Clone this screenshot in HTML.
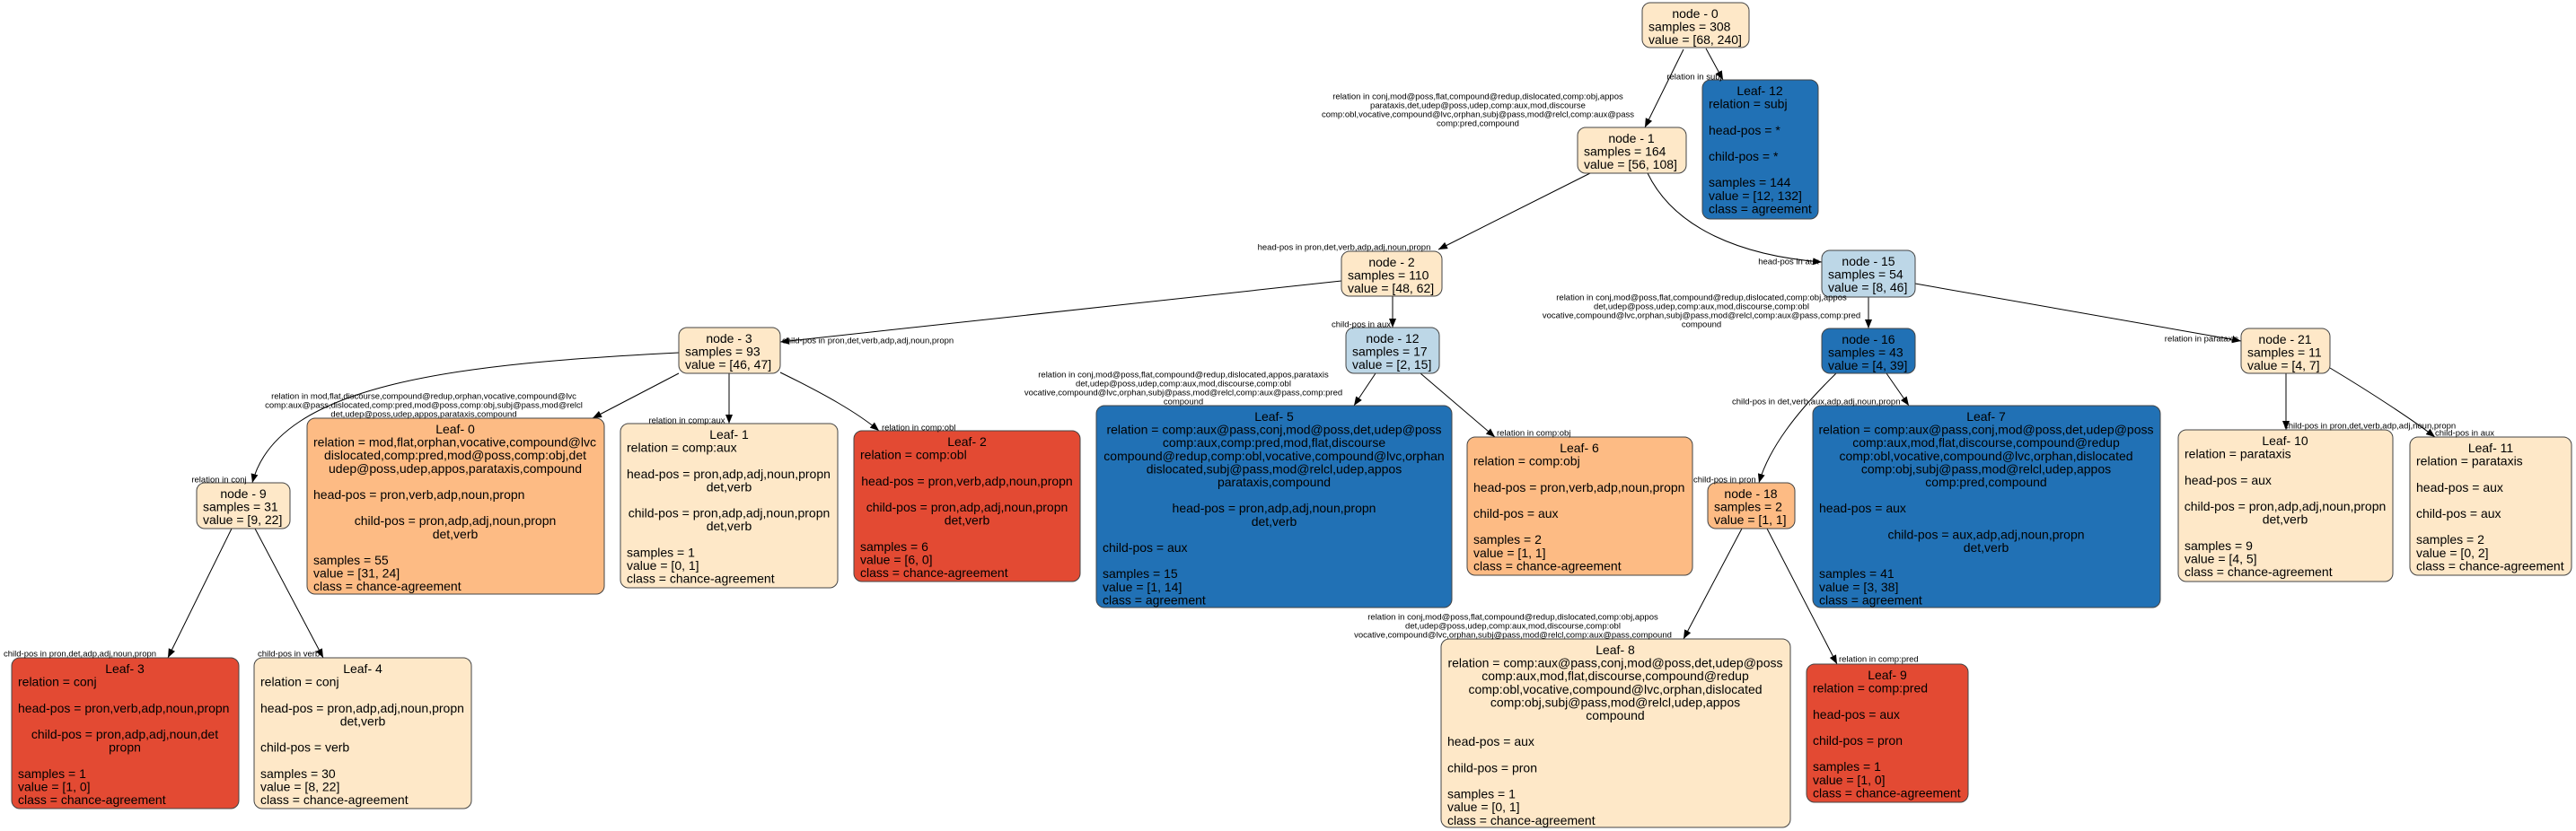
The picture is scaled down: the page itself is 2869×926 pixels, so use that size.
<!DOCTYPE html>
<html><head><meta charset="utf-8"><style>
html,body{margin:0;padding:0;background:#fff;}
svg{display:block;}
text{font-family:"Liberation Sans",Arial,sans-serif;fill:#000;}
.n{font-size:14px;}
.e{font-size:9.5px;}
.c{text-anchor:middle;}
</style></head><body>
<svg width="2869" height="926" viewBox="0 0 2869 926" xmlns="http://www.w3.org/2000/svg">
<defs><marker id="a" markerUnits="userSpaceOnUse" markerWidth="12" markerHeight="10" refX="10" refY="4" orient="auto"><path d="M0,0 L10,4 L0,8 z" fill="#000"/></marker></defs>
<g fill="none" stroke="#000" stroke-width="1" marker-end="url(#a)">
<path d="M1875,55 L1832,142"/>
<path d="M1900,54 L1919,89"/>
<path d="M1771,193 L1602,278"/>
<path d="M1835,193 C1865,255 1940,285 2029,292"/>
<path d="M1494,313 L869,381"/>
<path d="M1551,330 L1551,365"/>
<path d="M756,393 C520,405 310,425 281,538"/>
<path d="M756,416 L660,466"/>
<path d="M812,416 L812,472"/>
<path d="M869,415 C920,440 955,460 979,480"/>
<path d="M258,589 L187,733"/>
<path d="M284,589 L360,733"/>
<path d="M1532,416 L1508,452"/>
<path d="M1582,416 L1665,487"/>
<path d="M2081,331 L2081,366"/>
<path d="M2133,316 L2496,380"/>
<path d="M2045,416 C2000,460 1970,500 1959,538"/>
<path d="M2101,416 L2126,452"/>
<path d="M2546,416 L2546,479"/>
<path d="M2595,410 C2645,440 2690,470 2712,487"/>
<path d="M1940,589 L1875,712"/>
<path d="M1968,589 L2046,740"/>
</g>
<g stroke="#444" stroke-width="1">
<rect x="1829" y="3" width="119" height="50" rx="9" fill="#fee8c8"/>
<rect x="1757" y="142" width="121" height="51" rx="9" fill="#fee8c8"/>
<rect x="1896" y="89" width="129" height="155" rx="9" fill="#2171b5"/>
<rect x="1494" y="280" width="112" height="50" rx="9" fill="#fee8c8"/>
<rect x="756" y="365" width="113" height="51" rx="9" fill="#fee8c8"/>
<rect x="1499" y="365" width="104" height="51" rx="9" fill="#bdd7e7"/>
<rect x="2029" y="279" width="104" height="52" rx="9" fill="#bdd7e7"/>
<rect x="2029" y="366" width="104" height="50" rx="9" fill="#2171b5"/>
<rect x="2496" y="366" width="99" height="50" rx="9" fill="#fee8c8"/>
<rect x="219" y="538" width="104" height="51" rx="9" fill="#fee8c8"/>
<rect x="1902" y="538" width="97" height="51" rx="9" fill="#fdbb84"/>
<rect x="342" y="466" width="331" height="196" rx="9" fill="#fdbb84"/>
<rect x="691" y="472" width="242" height="183" rx="9" fill="#fee8c8"/>
<rect x="951" y="480" width="252" height="168" rx="9" fill="#e34a33"/>
<rect x="1221" y="452" width="396" height="225" rx="9" fill="#2171b5"/>
<rect x="1634" y="487" width="251" height="154" rx="9" fill="#fdbb84"/>
<rect x="2019" y="452" width="387" height="225" rx="9" fill="#2171b5"/>
<rect x="1605" y="712" width="389" height="210" rx="9" fill="#fee8c8"/>
<rect x="2012" y="740" width="180" height="154" rx="9" fill="#e34a33"/>
<rect x="2426" y="479" width="239" height="169" rx="9" fill="#fee8c8"/>
<rect x="2684" y="487" width="180" height="154" rx="9" fill="#fee8c8"/>
<rect x="13" y="733" width="253" height="168" rx="9" fill="#e34a33"/>
<rect x="283" y="733" width="242" height="168" rx="9" fill="#fee8c8"/>
</g>
<g class="n">
<!-- node 0 -->
<text class="c" x="1888" y="20">node - 0</text><text x="1836" y="34.6">samples = 308</text><text x="1836" y="49.2">value = [68, 240]</text>
<!-- node 1 -->
<text class="c" x="1817" y="159">node - 1</text><text x="1764" y="173.6">samples = 164</text><text x="1764" y="188.2">value = [56, 108]</text>
<!-- leaf 12 -->
<text class="c" x="1960" y="106">Leaf- 12</text><text x="1903" y="120.6">relation = subj</text><text x="1903" y="149.8">head-pos = *</text><text x="1903" y="179">child-pos = *</text><text x="1903" y="208.2">samples = 144</text><text x="1903" y="222.8">value = [12, 132]</text><text x="1903" y="237.4">class = agreement</text>
<!-- node 2 -->
<text class="c" x="1550" y="297">node - 2</text><text x="1501" y="311.6">samples = 110</text><text x="1501" y="326.2">value = [48, 62]</text>
<!-- node 3 -->
<text class="c" x="812" y="382">node - 3</text><text x="763" y="396.6">samples = 93</text><text x="763" y="411.2">value = [46, 47]</text>
<!-- node 12 -->
<text class="c" x="1551" y="382">node - 12</text><text x="1506" y="396.6">samples = 17</text><text x="1506" y="411.2">value = [2, 15]</text>
<!-- node 15 -->
<text class="c" x="2081" y="296">node - 15</text><text x="2036" y="310.6">samples = 54</text><text x="2036" y="325.2">value = [8, 46]</text>
<!-- node 16 -->
<text class="c" x="2081" y="383">node - 16</text><text x="2036" y="397.6">samples = 43</text><text x="2036" y="412.2">value = [4, 39]</text>
<!-- node 21 -->
<text class="c" x="2545" y="383">node - 21</text><text x="2503" y="397.6">samples = 11</text><text x="2503" y="412.2">value = [4, 7]</text>
<!-- node 9 -->
<text class="c" x="271" y="555">node - 9</text><text x="226" y="569.6">samples = 31</text><text x="226" y="584.2">value = [9, 22]</text>
<!-- node 18 -->
<text class="c" x="1950" y="555">node - 18</text><text x="1909" y="569.6">samples = 2</text><text x="1909" y="584.2">value = [1, 1]</text>
<!-- leaf 0 -->
<text class="c" x="507" y="483">Leaf- 0</text>
<text x="349" y="497.6">relation = mod,flat,orphan,vocative,compound@lvc</text>
<text class="c" x="507" y="512.2">dislocated,comp:pred,mod@poss,comp:obj,det</text>
<text class="c" x="507" y="526.8">udep@poss,udep,appos,parataxis,compound</text>
<text x="349" y="556">head-pos = pron,verb,adp,noun,propn</text>
<text class="c" x="507" y="585.2">child-pos = pron,adp,adj,noun,propn</text>
<text class="c" x="507" y="599.8">det,verb</text>
<text x="349" y="629">samples = 55</text><text x="349" y="643.6">value = [31, 24]</text><text x="349" y="658.2">class = chance-agreement</text>
<!-- leaf 1 -->
<text class="c" x="812" y="489">Leaf- 1</text>
<text x="698" y="503.6">relation = comp:aux</text>
<text x="698" y="532.8">head-pos = pron,adp,adj,noun,propn</text>
<text class="c" x="812" y="547.4">det,verb</text>
<text class="c" x="812" y="576.6">child-pos = pron,adp,adj,noun,propn</text>
<text class="c" x="812" y="591.2">det,verb</text>
<text x="698" y="620.4">samples = 1</text><text x="698" y="635">value = [0, 1]</text><text x="698" y="649.6">class = chance-agreement</text>
<!-- leaf 2 -->
<text class="c" x="1077" y="497">Leaf- 2</text>
<text x="958" y="511.6">relation = comp:obl</text>
<text class="c" x="1077" y="540.8">head-pos = pron,verb,adp,noun,propn</text>
<text class="c" x="1077" y="570">child-pos = pron,adp,adj,noun,propn</text>
<text class="c" x="1077" y="584.6">det,verb</text>
<text x="958" y="613.8">samples = 6</text><text x="958" y="628.4">value = [6, 0]</text><text x="958" y="643">class = chance-agreement</text>
<!-- leaf 5 -->
<text class="c" x="1419" y="469">Leaf- 5</text>
<text class="c" x="1419" y="483.6">relation = comp:aux@pass,conj,mod@poss,det,udep@poss</text>
<text class="c" x="1419" y="498.2">comp:aux,comp:pred,mod,flat,discourse</text>
<text class="c" x="1419" y="512.8">compound@redup,comp:obl,vocative,compound@lvc,orphan</text>
<text class="c" x="1419" y="527.4">dislocated,subj@pass,mod@relcl,udep,appos</text>
<text class="c" x="1419" y="542">parataxis,compound</text>
<text class="c" x="1419" y="571.2">head-pos = pron,adp,adj,noun,propn</text>
<text class="c" x="1419" y="585.8">det,verb</text>
<text x="1228" y="615">child-pos = aux</text>
<text x="1228" y="644.2">samples = 15</text><text x="1228" y="658.8">value = [1, 14]</text><text x="1228" y="673.4">class = agreement</text>
<!-- leaf 6 -->
<text class="c" x="1759" y="504">Leaf- 6</text>
<text x="1641" y="518.6">relation = comp:obj</text>
<text x="1641" y="547.8">head-pos = pron,verb,adp,noun,propn</text>
<text x="1641" y="577">child-pos = aux</text>
<text x="1641" y="606.2">samples = 2</text><text x="1641" y="620.8">value = [1, 1]</text><text x="1641" y="635.4">class = chance-agreement</text>
<!-- leaf 7 -->
<text class="c" x="2212" y="469">Leaf- 7</text>
<text class="c" x="2212" y="483.6">relation = comp:aux@pass,conj,mod@poss,det,udep@poss</text>
<text class="c" x="2212" y="498.2">comp:aux,mod,flat,discourse,compound@redup</text>
<text class="c" x="2212" y="512.8">comp:obl,vocative,compound@lvc,orphan,dislocated</text>
<text class="c" x="2212" y="527.4">comp:obj,subj@pass,mod@relcl,udep,appos</text>
<text class="c" x="2212" y="542">comp:pred,compound</text>
<text x="2026" y="571.2">head-pos = aux</text>
<text class="c" x="2212" y="600.4">child-pos = aux,adp,adj,noun,propn</text>
<text class="c" x="2212" y="615">det,verb</text>
<text x="2026" y="644.2">samples = 41</text><text x="2026" y="658.8">value = [3, 38]</text><text x="2026" y="673.4">class = agreement</text>
<!-- leaf 8 -->
<text class="c" x="1799" y="729">Leaf- 8</text>
<text class="c" x="1799" y="743.6">relation = comp:aux@pass,conj,mod@poss,det,udep@poss</text>
<text class="c" x="1799" y="758.2">comp:aux,mod,flat,discourse,compound@redup</text>
<text class="c" x="1799" y="772.8">comp:obl,vocative,compound@lvc,orphan,dislocated</text>
<text class="c" x="1799" y="787.4">comp:obj,subj@pass,mod@relcl,udep,appos</text>
<text class="c" x="1799" y="802">compound</text>
<text x="1612" y="831.2">head-pos = aux</text>
<text x="1612" y="860.4">child-pos = pron</text>
<text x="1612" y="889.6">samples = 1</text><text x="1612" y="904.2">value = [0, 1]</text><text x="1612" y="918.8">class = chance-agreement</text>
<!-- leaf 9 -->
<text class="c" x="2102" y="757">Leaf- 9</text>
<text x="2019" y="771.6">relation = comp:pred</text>
<text x="2019" y="800.8">head-pos = aux</text>
<text x="2019" y="830">child-pos = pron</text>
<text x="2019" y="859.2">samples = 1</text><text x="2019" y="873.8">value = [1, 0]</text><text x="2019" y="888.4">class = chance-agreement</text>
<!-- leaf 10 -->
<text class="c" x="2545" y="496">Leaf- 10</text>
<text x="2433" y="510.6">relation = parataxis</text>
<text x="2433" y="539.8">head-pos = aux</text>
<text class="c" x="2545" y="569">child-pos = pron,adp,adj,noun,propn</text>
<text class="c" x="2545" y="583.6">det,verb</text>
<text x="2433" y="612.8">samples = 9</text><text x="2433" y="627.4">value = [4, 5]</text><text x="2433" y="642">class = chance-agreement</text>
<!-- leaf 11 -->
<text class="c" x="2774" y="504">Leaf- 11</text>
<text x="2691" y="518.6">relation = parataxis</text>
<text x="2691" y="547.8">head-pos = aux</text>
<text x="2691" y="577">child-pos = aux</text>
<text x="2691" y="606.2">samples = 2</text><text x="2691" y="620.8">value = [0, 2]</text><text x="2691" y="635.4">class = chance-agreement</text>
<!-- leaf 3 -->
<text class="c" x="139" y="750">Leaf- 3</text>
<text x="20" y="764.6">relation = conj</text>
<text x="20" y="793.8">head-pos = pron,verb,adp,noun,propn</text>
<text class="c" x="139" y="823">child-pos = pron,adp,adj,noun,det</text>
<text class="c" x="139" y="837.6">propn</text>
<text x="20" y="866.8">samples = 1</text><text x="20" y="881.4">value = [1, 0]</text><text x="20" y="896">class = chance-agreement</text>
<!-- leaf 4 -->
<text class="c" x="404" y="750">Leaf- 4</text>
<text x="290" y="764.6">relation = conj</text>
<text x="290" y="793.8">head-pos = pron,adp,adj,noun,propn</text>
<text class="c" x="404" y="808.4">det,verb</text>
<text x="290" y="837.6">child-pos = verb</text>
<text x="290" y="866.8">samples = 30</text><text x="290" y="881.4">value = [8, 22]</text><text x="290" y="896">class = chance-agreement</text>
</g>
<g class="e">
<text class="c" x="1887" y="88.5">relation in subj</text>
<text class="c" x="1646" y="110.5">relation in conj,mod@poss,flat,compound@redup,dislocated,comp:obj,appos</text>
<text class="c" x="1646" y="120.5">parataxis,det,udep@poss,udep,comp:aux,mod,discourse</text>
<text class="c" x="1646" y="130.5">comp:obl,vocative,compound@lvc,orphan,subj@pass,mod@relcl,comp:aux@pass</text>
<text class="c" x="1646" y="140.5">comp:pred,compound</text>
<text class="c" x="1497" y="278.5">head-pos in pron,det,verb,adp,adj,noun,propn</text>
<text class="c" x="1992" y="294.5">head-pos in aux</text>
<text class="c" x="1895" y="334.5">relation in conj,mod@poss,flat,compound@redup,dislocated,comp:obj,appos</text>
<text class="c" x="1895" y="344.5">det,udep@poss,udep,comp:aux,mod,discourse,comp:obl</text>
<text class="c" x="1895" y="354.5">vocative,compound@lvc,orphan,subj@pass,mod@relcl,comp:aux@pass,comp:pred</text>
<text class="c" x="1895" y="364.5">compound</text>
<text class="c" x="2452" y="380.5">relation in parataxis</text>
<text x="871" y="382.5">child-pos in pron,det,verb,adp,adj,noun,propn</text>
<text class="c" x="1516" y="364.5">child-pos in aux</text>
<text class="c" x="472" y="444.5">relation in mod,flat,discourse,compound@redup,orphan,vocative,compound@lvc</text>
<text class="c" x="472" y="454.5">comp:aux@pass,dislocated,comp:pred,mod@poss,comp:obj,subj@pass,mod@relcl</text>
<text class="c" x="472" y="464.5">det,udep@poss,udep,appos,parataxis,compound</text>
<text class="c" x="244" y="537.5">relation in conj</text>
<text class="c" x="765" y="471.5">relation in comp:aux</text>
<text x="982" y="479.5">relation in comp:obl</text>
<text class="c" x="1318" y="420.5">relation in conj,mod@poss,flat,compound@redup,dislocated,appos,parataxis</text>
<text class="c" x="1318" y="430.5">det,udep@poss,udep,comp:aux,mod,discourse,comp:obl</text>
<text class="c" x="1318" y="440.5">vocative,compound@lvc,orphan,subj@pass,mod@relcl,comp:aux@pass,comp:pred</text>
<text class="c" x="1318" y="450.5">compound</text>
<text x="1667" y="485.5">relation in comp:obj</text>
<text x="1929" y="450.5">child-pos in det,verb,aux,adp,adj,noun,propn</text>
<text x="1886" y="537.5">child-pos in pron</text>
<text x="2544" y="477.5">child-pos in pron,det,verb,adp,adj,noun,propn</text>
<text x="2712" y="485.5">child-pos in aux</text>
<text class="c" x="1685" y="690.5">relation in conj,mod@poss,flat,compound@redup,dislocated,comp:obj,appos</text>
<text class="c" x="1685" y="700.5">det,udep@poss,udep,comp:aux,mod,discourse,comp:obl</text>
<text class="c" x="1685" y="710.5">vocative,compound@lvc,orphan,subj@pass,mod@relcl,comp:aux@pass,compound</text>
<text x="2048" y="737.5">relation in comp:pred</text>
<text x="4" y="731.5">child-pos in pron,det,adp,adj,noun,propn</text>
<text x="287" y="731.5">child-pos in verb</text>
</g>
</svg>
</body></html>
